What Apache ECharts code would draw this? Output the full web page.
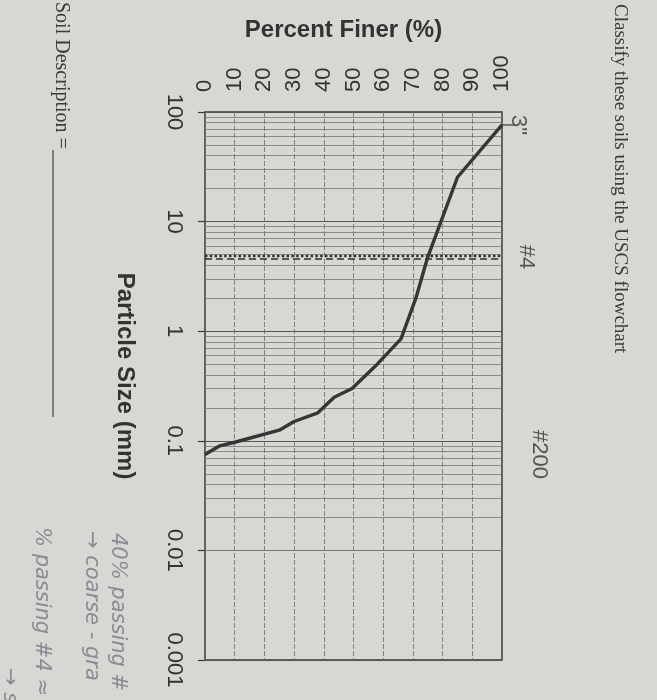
<!DOCTYPE html>
<html><head><meta charset="utf-8">
<script src="https://cdn.jsdelivr.net/npm/echarts@6/dist/echarts.min.js"></script>
<style>html,body{margin:0;padding:0;background:#d7d7d3;} #chart{width:657px;height:700px;}</style>
</head><body><div id="chart"></div>
<script>
// Gradation curve: particle size (mm) vs percent finer (%)
const particleSizeMm = [76.2, 25.4, 4.75, 2.0, 0.85, 0.5, 0.3, 0.25, 0.18, 0.15, 0.125, 0.097, 0.09, 0.075];
const percentFiner   = [100, 85, 75, 71, 66, 58, 49.5, 43.5, 38, 30, 25, 10, 5, 0];
// Axis tick labels
const sizeTickLabels = ['100', '10', '1', '0.1', '0.01', '0.001'];
const percentTickLabels = ['0', '10', '20', '30', '40', '50', '60', '70', '80', '90', '100'];
// Sieve markers
const sieveNames = ['3"', '#4', '#200'];
const sieveSizesMm = [76.2, 4.75, 0.075];
// Log-paper minor lines
const minorMultipliers = [2, 3, 4, 5, 6, 7, 8, 9];
const decadeStarts = [0.001, 0.01, 0.1, 1, 10];

const INK = '#333333';
const minorLines = [];
decadeStarts.forEach(d => minorMultipliers.forEach(m => minorLines.push({ yAxis: d * m })));
const no4 = sieveSizesMm[1];
const sieveMarkLines = minorLines.concat([
  { yAxis: no4 * 1.03, lineStyle: { type: 'dotted', width: 2.4, color: '#2e2e2e' } },
  { yAxis: no4 / 1.03, lineStyle: { type: [7, 4], width: 1.5, color: '#2e2e2e' } }
]);

function rotText(text, x, y, font, fill) {
  return { type: 'text', x: x, y: y, rotation: -Math.PI / 2, silent: true,
    style: { text: text, font: font, fill: fill, align: 'left', verticalAlign: 'middle',
             textAlign: 'left', textVerticalAlign: 'middle' } };
}

const chart = echarts.init(document.getElementById('chart'), null, { renderer: 'canvas' });
chart.setOption({
  backgroundColor: '#d7d7d3',
  animation: false,
  grid: { left: 205, top: 112, width: 297, height: 548, show: true,
          borderColor: '#3a3a3a', borderWidth: 1.5, backgroundColor: 'transparent' },
  xAxis: {
    type: 'value', position: 'top', min: 0, max: 100, interval: 10,
    name: 'Percent Finer (%)', nameLocation: 'middle', nameGap: 70,
    nameTextStyle: { fontFamily: 'Liberation Sans', fontWeight: 'bold', fontSize: 24, color: INK, padding: [0, 20, 0, 0] },
    axisLine: { show: false }, axisTick: { show: false },
    axisLabel: { rotate: -90, margin: 20, fontFamily: 'Liberation Sans', fontSize: 22, color: INK,
                 formatter: v => percentTickLabels[Math.round(v / 10)] },
    splitLine: { show: true, lineStyle: { color: '#6a6a6a', width: 0.8, type: [5, 2] } }
  },
  yAxis: {
    type: 'log', logBase: 10, min: 0.001, max: 100, splitNumber: 5,
    name: 'Particle Size (mm)', nameLocation: 'middle', nameGap: 68, nameRotate: -90,
    nameTextStyle: { fontFamily: 'Liberation Sans', fontWeight: 'bold', fontSize: 24, color: INK, padding: [0, 20, 0, 0] },
    axisLine: { show: false },
    axisTick: { show: true, inside: false, length: 7, lineStyle: { color: '#3a3a3a', width: 1.2 } },
    axisLabel: { rotate: -90, margin: 20, fontFamily: 'Liberation Sans', fontSize: 22, color: INK,
                 formatter: v => sizeTickLabels[Math.round(2 - Math.log10(v))] },
    splitLine: { show: true, lineStyle: { color: '#555555', width: 1 } }
  },
  series: [
    {
      type: 'scatter', z: 1, symbolSize: 0, silent: true,
      data: sieveSizesMm.map((s, i) => ({ name: sieveNames[i], value: [100, s],
        label: { distance: 15 + 7 * (2 - Math.log10(s)) } })),
      label: { show: true, position: 'right', distance: 17, rotate: -90, align: 'center', verticalAlign: 'middle',
               formatter: p => p.name, fontFamily: 'Liberation Sans', fontSize: 22, color: INK },
      markLine: { silent: true, symbol: 'none', label: { show: false },
                  lineStyle: { color: '#767676', width: 0.8, type: 'solid' },
                  data: sieveMarkLines }
    },
    {
      type: 'scatter', z: 2, silent: true, symbol: 'rect', symbolSize: [12, 1.5], symbolOffset: [6, 0],
      itemStyle: { color: '#3a3a3a' },
      data: [[100, sieveSizesMm[0]]]
    },
    {
      type: 'line', z: 5, symbol: 'none', silent: true,
      lineStyle: { color: '#363636', width: 3.4 },
      data: particleSizeMm.map((s, i) => [percentFiner[i], s])
    }
  ],
  graphic: [
    rotText('Classify these soils using the USCS flowchart', 620, 4, '19px "Liberation Serif"', '#3c3c3c'),
    rotText('Soil Description =', 61, 2, '20px "Liberation Serif"', '#3c3c3c'),
    { type: 'line', silent: true, shape: { x1: 53, y1: 150, x2: 53, y2: 417 }, style: { stroke: '#444', lineWidth: 1.2 } },
    rotText('40% passing #', 117, 533, 'italic 21px "DejaVu Sans"', '#8a8c95'),
    rotText('→ coarse - gra', 91, 531, 'italic 21px "DejaVu Sans"', '#8a8c95'),
    rotText('% passing #4 ≈', 41, 527, 'italic 21px "DejaVu Sans"', '#8a8c95'),
    rotText('→ sand', 9, 668, 'italic 21px "DejaVu Sans"', '#8a8c95')
  ]
});
</script></body></html>
